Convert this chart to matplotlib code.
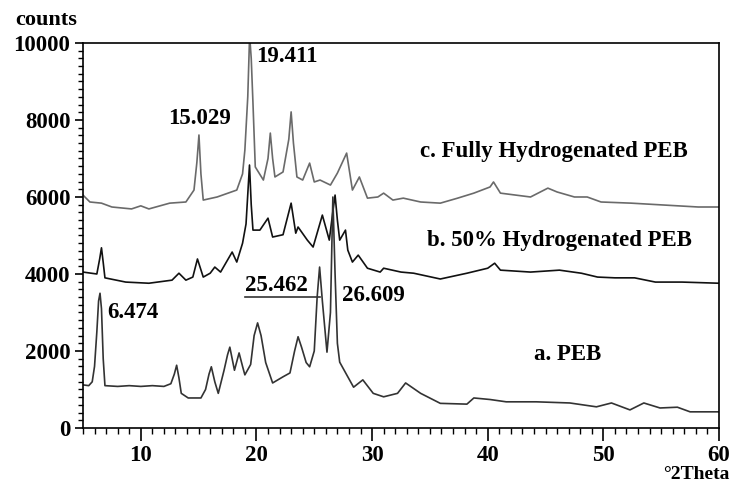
import numpy as np
import matplotlib.pyplot as plt
from matplotlib.ticker import MultipleLocator

plt.rcParams['font.family'] = ['Liberation Serif', 'DejaVu Serif']
plt.rcParams['font.weight'] = 'bold'

# a. PEB
a_x = [5.0, 5.5, 5.8, 6.0, 6.2, 6.35, 6.474, 6.6, 6.75, 6.9, 8.0, 9.0, 10.0, 11.0, 12.0, 12.6, 12.9,
       13.1, 13.3, 13.5, 14.1, 15.2, 15.6, 15.9, 16.1, 16.4, 16.7, 17.2, 17.5, 17.7, 17.9, 18.1, 18.5,
       18.8, 19.0, 19.5, 19.8, 20.1, 20.4, 20.8, 21.4, 22.3, 22.9, 23.3, 23.6, 23.9, 24.3, 24.6, 25.0,
       25.25, 25.462, 25.7, 26.1, 26.4, 26.609, 26.8, 27.0, 27.2, 27.9, 28.4, 29.2, 30.1, 31.0, 32.2,
       32.9, 34.2, 35.9, 38.2, 38.8, 40.2, 41.6, 44.2, 47.1, 49.4, 50.7, 52.3, 53.5, 54.9, 56.4, 57.5, 60.0]
a_y = [1120, 1100, 1200, 1600, 2500, 3300, 3500, 3100, 1800, 1100, 1080, 1100, 1080, 1100, 1080, 1150, 1400,
       1630, 1300, 900, 780, 780, 1000, 1400, 1590, 1200, 900, 1500, 1900, 2100, 1800, 1500, 1950,
       1600, 1380, 1650, 2400, 2730, 2400, 1700, 1170, 1330, 1430, 2000, 2370, 2100, 1700, 1590, 2000,
       3400, 4180, 3300, 1970, 3000, 6000, 4000, 2200, 1710, 1330, 1060, 1250, 900, 810, 900,
       1170, 900, 640, 620, 780, 740, 680, 680, 650, 550, 650, 470, 650, 520, 540, 420, 420]

# b. 50% Hydrogenated PEB
b_x = [5.0, 6.2, 6.45, 6.6, 6.75, 6.9, 8.7, 10.7, 12.7, 13.3, 13.9, 14.5, 14.9, 15.4, 16.0, 16.4, 16.9,
       17.9, 18.3, 18.8, 19.1, 19.4, 19.55, 19.7, 20.3, 21.0, 21.4, 22.3, 23.0, 23.4, 23.6, 24.4, 24.9,
       25.7, 26.3, 26.6, 26.8, 27.0, 27.2, 27.7, 27.9, 28.3, 28.8, 29.6, 30.7, 31.0, 32.5, 33.6, 35.9,
       38.2, 40.0, 40.6, 41.1, 43.7, 46.2, 48.1, 49.5, 51.0, 52.7, 54.5, 56.8, 60.0]
b_y = [4050, 4000, 4400, 4680, 4300, 3900, 3790, 3760, 3840, 4020, 3840, 3920, 4390, 3920, 4020, 4180, 4050,
       4570, 4310, 4800, 5300, 6830, 5800, 5140, 5140, 5450, 4960, 5020, 5840, 5060, 5220, 4880, 4700,
       5530, 4880, 5600, 6050, 5400, 4880, 5140, 4620, 4310, 4490, 4150, 4050, 4150, 4050, 4020, 3870,
       4020, 4150, 4280, 4100, 4050, 4100, 4020, 3920, 3900, 3900, 3790, 3790, 3760]

# c. Fully Hydrogenated PEB
c_x = [5.0, 5.6, 6.6, 7.5, 9.2, 10.0, 10.7, 12.5, 13.9, 14.6, 14.85, 15.029, 15.2, 15.4, 16.6, 18.3,
       18.8, 19.0, 19.25, 19.411, 19.55, 19.7, 19.9, 20.6, 21.0, 21.2, 21.4, 21.6, 22.3, 22.8, 23.0, 23.2,
       23.5, 24.0, 24.6, 25.0, 25.5, 26.4, 27.0, 27.8, 28.3, 28.9, 29.6, 30.5, 31.0, 31.8, 32.7, 34.2,
       35.9, 37.4, 38.8, 40.2, 40.5, 41.1, 43.7, 45.2, 46.0, 47.5, 48.6, 49.8, 52.4, 55.3, 58.2, 60.0]
c_y = [6050, 5870, 5840, 5740, 5690, 5770, 5690, 5840, 5870, 6180, 6900, 7610, 6600, 5920, 6000, 6180,
       6600, 7220, 8600, 10200, 9600, 8440, 6780, 6440, 7000, 7660, 7000, 6520, 6650, 7500, 8210, 7400,
       6520, 6440, 6880, 6390, 6440, 6310, 6620, 7140, 6180, 6520, 5970, 6000, 6100, 5920, 5970, 5870,
       5840, 5970, 6100, 6260, 6390, 6100, 6000, 6230, 6130, 6000, 6000, 5870, 5840, 5790, 5740, 5740]

fig = plt.figure(figsize=(7.31, 4.84), dpi=100)
ax = fig.add_axes([0.1135, 0.1157, 0.8701, 0.7955])

ax.plot(c_x, c_y, color='#6a6a6a', linewidth=1.2)
ax.plot(b_x, b_y, color='#111111', linewidth=1.2)
ax.plot(a_x, a_y, color='#333333', linewidth=1.2)

ax.set_xlim(5, 60)
ax.set_ylim(0, 10000)
ax.set_xticks([10, 20, 30, 40, 50, 60])
ax.set_yticks([0, 2000, 4000, 6000, 8000, 10000])
ax.xaxis.set_minor_locator(MultipleLocator(1))
ax.yaxis.set_minor_locator(MultipleLocator(200))
ax.tick_params(axis='x', which='major', direction='out', length=9, width=1.2, labelsize=16.5, pad=3)
ax.tick_params(axis='x', which='minor', direction='out', length=4.5, width=1.0)
ax.tick_params(axis='y', which='major', direction='out', length=6, width=1.2, labelsize=16.5, pad=3)
ax.tick_params(axis='y', which='minor', direction='out', length=3.5, width=1.0)
for lab in ax.get_xticklabels() + ax.get_yticklabels():
    lab.set_fontweight('bold')
for s in ax.spines.values():
    s.set_linewidth(1.2)

fs = 16.5
ax.text(20.0, 9660, "19.411", fontsize=fs, fontweight='bold', ha='left', va='center')
ax.text(15.1, 8030, "15.029", fontsize=fs, fontweight='bold', ha='center', va='center')
ax.text(7.1, 3010, "6.474", fontsize=fs, fontweight='bold', ha='left', va='center')
ax.text(19.0, 3710, "25.462", fontsize=fs, fontweight='bold', ha='left', va='center')
ax.plot([19.0, 25.5], [3400, 3400], color='#333333', linewidth=1.2)
ax.text(27.4, 3430, "26.609", fontsize=fs, fontweight='bold', ha='left', va='center')

ax.text(45.7, 7170, "c. Fully Hydrogenated PEB", fontsize=fs, fontweight='bold', ha='center', va='center')
ax.text(46.2, 4860, "b. 50% Hydrogenated PEB", fontsize=fs, fontweight='bold', ha='center', va='center')
ax.text(46.9, 1920, "a. PEB", fontsize=fs, fontweight='bold', ha='center', va='center')

fig.text(15 / 731, 1 - 20 / 484, "counts", fontsize=16, fontweight='bold', ha='left', va='center')
fig.text(729 / 731, 1 / 484, "°2Theta", fontsize=14, fontweight='bold', ha='right', va='bottom')

fig.savefig("out.png", dpi=100)
